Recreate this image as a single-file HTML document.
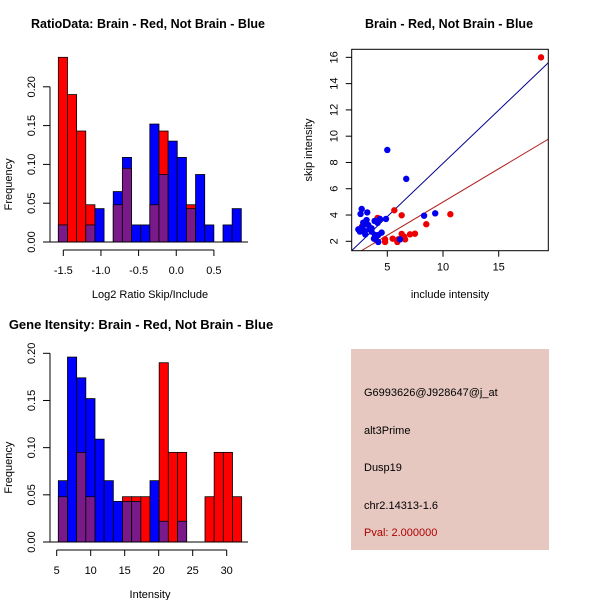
<!DOCTYPE html>
<html><head><meta charset="utf-8"><style>
body{margin:0;background:#fff}
svg{display:block;font-family:"Liberation Sans",sans-serif}
</style></head><body>
<svg id="c" width="600" height="600" viewBox="0 0 600 600">
<rect width="600" height="600" fill="#fff"/>
<g id="p1"></g>
<g id="p2"></g>
<g id="p3"></g>
<g id="p4">
<rect x="351" y="349" width="198" height="201" fill="#e6c8c1"/>
<text x="364" y="396" font-size="11">G6993626@J928647@j_at</text>
<text x="364" y="434" font-size="11">alt3Prime</text>
<text x="364" y="471" font-size="11">Dusp19</text>
<text x="364" y="509" font-size="11">chr2.14313-1.6</text>
<text x="364" y="536" font-size="11" fill="#b00000">Pval: 2.000000</text>
</g>
</svg>
<script>
// Ratio histogram data
const ratioStart = -1.566;
const ratioBinWidth = 0.1215;
const ratioRed = [0.238,0.19,0.143,0.048,0,0,0.048,0.095,0,0,0.048,0.143,0,0,0.048,0,0,0,0,0];
const ratioBlue = [0.022,0,0,0.022,0.043,0,0.065,0.109,0.022,0.022,0.152,0.087,0.13,0.109,0.043,0.087,0.022,0,0.022,0.043];
const ratioXTicks = [-1.5,-1.0,-0.5,0.0,0.5];
const ratioYTicks = [0,0.05,0.10,0.15,0.20];
// Intensity histogram data
const intStart = 5.24;
const intBinWidth = 1.348;
const intRed = [0.048,0,0.095,0.048,0,0,0,0.048,0.048,0.048,0,0.19,0.095,0.095,0,0,0.048,0.095,0.095,0.048];
const intBlue = [0.065,0.196,0.174,0.152,0.109,0.065,0.043,0.043,0.043,0,0.065,0.022,0,0.022,0,0,0,0,0,0];
const intXTicks = [5,10,15,20,25,30];
const intYTicks = [0,0.05,0.10,0.15,0.20];
// Scatter data
const redX = [18.8,5.63,6.29,10.66,8.5,4.13,7.48,7.04,6.29,6.5,5.48,5.99,4.8,4.8,5.9,6.6,2.7,4.0];
const redY = [16.0,4.36,3.98,4.06,3.3,3.78,2.58,2.53,2.56,2.36,2.2,2.15,2.15,1.95,1.95,2.15,3.1,2.1];
const blueX = [5.0,6.7,9.3,8.3,2.7,2.6,3.2,4.88,4.34,3.86,4.13,3.14,2.84,3.29,2.4,2.54,2.99,3.44,3.59,3.89,4.19,4.49,3.8,4.19,6.14,3.02,2.78,3.59,3.98];
const blueY = [8.95,6.75,4.13,3.95,4.46,4.08,4.2,3.7,3.7,3.55,3.4,3.62,3.42,3.24,2.91,2.74,2.79,2.91,2.74,2.48,2.48,2.66,2.2,1.95,2.15,2.53,3.12,2.99,2.36];
const scXTicks = [5,10,15];
const scYTicks = [2,4,6,8,10,12,14,16];
const blueFit = [-0.17,0.81];
const redFit = [-0.07,0.506];

const NS='http://www.w3.org/2000/svg';
function mk(parent,tag,attrs){const e=document.createElementNS(NS,tag);for(const k in attrs)e.setAttribute(k,attrs[k]);parent.appendChild(e);return e;}

function hist(g,o){
  const sx=v=>o.x0px+(v-o.x0v)*o.kx, sy=v=>o.y0px-v*o.ky;
  const n=o.red.length;
  for(let i=0;i<n;i++){
    const a=o.start+i*o.bw,b=a+o.bw,r=o.red[i],bl=o.blue[i];
    const x=sx(a),w=sx(b)-sx(a);
    const big=Math.max(r,bl),small=Math.min(r,bl);
    if(big>0){
      const e=mk(g,'rect',{x:x,y:sy(big),width:w,height:sy(0)-sy(big),fill:r>=bl?'#ff0000':'#0000ff',stroke:'#000','stroke-width':0.8});
      
      
    }
    if(small>0){
      const e=mk(g,'rect',{x:x,y:sy(small),width:w,height:sy(0)-sy(small),fill:'#7a1a8a',stroke:'#000','stroke-width':0.8});
      
      
    }
  }
  mk(g,'line',{x1:50,x2:248,y1:sy(0),y2:sy(0),stroke:'#000'});
  const yt=o.yticks;
  mk(g,'line',{x1:50,x2:50,y1:sy(yt[0]),y2:sy(yt[yt.length-1]),stroke:'#000'});
  yt.forEach(t=>{
    mk(g,'line',{x1:43,x2:50,y1:sy(t),y2:sy(t),stroke:'#000'});
    const e=mk(g,'text',{x:0,y:0,'font-size':11,'text-anchor':'middle',transform:`translate(35,${sy(t)}) rotate(-90)`});
    e.textContent=t.toFixed(2);
    
    
  });
  const xt=o.xticks, ay=sy(0)+8;
  mk(g,'line',{x1:sx(xt[0]),x2:sx(xt[xt.length-1]),y1:ay,y2:ay,stroke:'#000'});
  xt.forEach(t=>{
    mk(g,'line',{x1:sx(t),x2:sx(t),y1:ay,y2:ay+6,stroke:'#000'});
    const e=mk(g,'text',{x:sx(t),y:ay+24,'font-size':11,'text-anchor':'middle'});
    e.textContent=o.fmt(t);
    
    
  });
  let e=mk(g,'text',{x:150,y:ay+48,'font-size':11,'text-anchor':'middle'});e.textContent=o.xlab;
  
  
  e=mk(g,'text',{x:0,y:0,'font-size':11,'text-anchor':'middle',transform:`translate(12,${(sy(0)+sy(yt[yt.length-1]))/2+20}) rotate(-90)`});e.textContent='Frequency';
  
  
  e=mk(g,'text',{x:o.tx,y:o.ty,'font-size':o.tfs,'font-weight':'bold','text-anchor':'middle'});e.textContent=o.title;
  
  
}

hist(document.getElementById('p1'),{start:ratioStart,bw:ratioBinWidth,red:ratioRed,blue:ratioBlue,
  x0v:-1.5,x0px:63.3,kx:75.3,y0px:242,ky:776,xticks:ratioXTicks,yticks:ratioYTicks,
  fmt:t=>t.toFixed(1),xlab:'Log2 Ratio Skip/Include',title:'RatioData: Brain - Red, Not Brain - Blue',tx:148,ty:28,tfs:12.5});
hist(document.getElementById('p3'),{start:intStart,bw:intBinWidth,red:intRed,blue:intBlue,
  x0v:5,x0px:56.7,kx:6.8,y0px:542,ky:943.5,xticks:intXTicks,yticks:intYTicks,
  fmt:t=>String(t),xlab:'Intensity',title:'Gene Itensity: Brain - Red, Not Brain - Blue',tx:141,ty:329,tfs:13});

(function(){
  const g=document.getElementById('p2');
  const L=351.7,R=548.3,T=49.3,B=250.7;
  const sx=v=>387.3+(v-5)*11.14, sy=v=>241.3-(v-2)*13.14;
  const xmin=(L-387.3)/11.14+5, xmax=(R-387.3)/11.14+5;
  const cp=mk(g,'clipPath',{id:'clip'});
  mk(cp,'rect',{x:L,y:T,width:R-L,height:B-T});
  const inner=mk(g,'g',{'clip-path':'url(#clip)'});
  [[blueFit,'#00008b','fit-line-blue'],[redFit,'#b22222','fit-line-red']].forEach(([f,c,n])=>{
    const e=mk(inner,'line',{x1:sx(xmin),y1:sy(f[0]+f[1]*xmin),x2:sx(xmax),y2:sy(f[0]+f[1]*xmax),stroke:c,'stroke-width':1});
    
    
  });
  redX.forEach((x,i)=>{const e=mk(inner,'circle',{cx:sx(x),cy:sy(redY[i]),r:3.2,fill:'#ee0000'});
    
    });
  blueX.forEach((x,i)=>{const e=mk(inner,'circle',{cx:sx(x),cy:sy(blueY[i]),r:3.2,fill:'#0000ee'});
    
    });
  mk(g,'rect',{x:L,y:T,width:R-L,height:B-T,fill:'none',stroke:'#000'});
  scXTicks.forEach(t=>{mk(g,'line',{x1:sx(t),x2:sx(t),y1:B,y2:B+6,stroke:'#000'});
    const e=mk(g,'text',{x:sx(t),y:B+20,'font-size':11,'text-anchor':'middle'});e.textContent=t;
    
    });
  scYTicks.forEach(t=>{mk(g,'line',{x1:L-6,x2:L,y1:sy(t),y2:sy(t),stroke:'#000'});
    const e=mk(g,'text',{x:0,y:0,'font-size':11,'text-anchor':'middle',transform:`translate(${L-14},${sy(t)}) rotate(-90)`});e.textContent=t;
    
    });
  let e=mk(g,'text',{x:450,y:298,'font-size':11,'text-anchor':'middle'});e.textContent='include intensity';
  
  
  e=mk(g,'text',{x:0,y:0,'font-size':11,'text-anchor':'middle',transform:'translate(312,150) rotate(-90)'});e.textContent='skip intensity';
  
  
  e=mk(g,'text',{x:449,y:28,'font-size':12.5,'font-weight':'bold','text-anchor':'middle'});e.textContent='Brain - Red, Not Brain - Blue';
  
  
})();
</script>
</body></html>
